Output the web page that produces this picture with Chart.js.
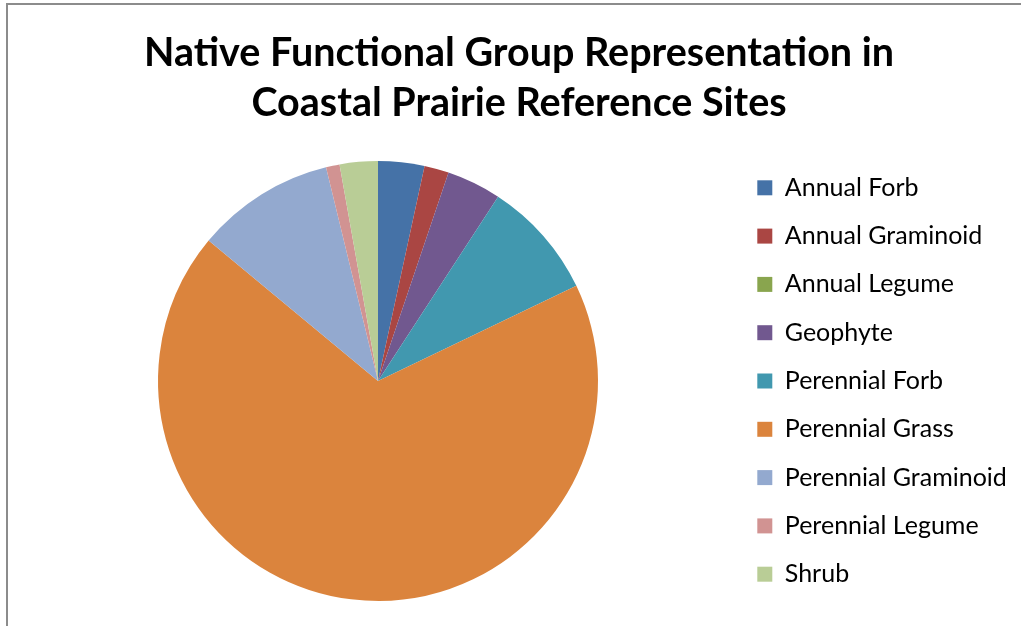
<!DOCTYPE html>
<html>
<head>
<meta charset="utf-8">
<script src="https://cdn.jsdelivr.net/npm/chart.js@4"></script>
<style>
    html, body { margin: 0; padding: 0; background: #fff; overflow: hidden; }
    #frame {
        position: absolute;
        left: 6px;
        top: 3px;
        border-left: 2px solid #8c8c8c;
        border-top: 2px solid #8c8c8c;
    }
    canvas { display: block; }
</style>
</head>
<body>
<div id="frame">
    <canvas id="pieChart" width="1030" height="621"></canvas>
</div>
<script>
const groups = ["Annual Forb", "Annual Graminoid", "Annual Legume", "Geophyte", "Perennial Forb",
    "Perennial Grass", "Perennial Graminoid", "Perennial Legume", "Shrub"];
const shares = [3.4, 1.8, 0, 4.0, 8.7, 68.2, 10.2, 1.0, 2.8];
const sliceColors = ["#4572A7", "#AA4643", "#89A54E", "#71588F", "#4198AF",
    "#DB843D", "#93A9CF", "#D19392", "#B9CD96"];

document.addEventListener("DOMContentLoaded", function() {
    const ctx = document.getElementById("pieChart").getContext("2d");

    new Chart(ctx, {
        type: 'pie',
        data: {
            labels: groups,
            datasets: [{
                data: shares,
                backgroundColor: sliceColors,
                borderWidth: 0
            }]
        },
        options: {
            responsive: false,
            animation: false,
            devicePixelRatio: 1,
            radius: 220,
            layout: {
                padding: { left: 14, right: 22, top: 0, bottom: 10 }
            },
            plugins: {
                title: {
                    display: true,
                    text: ["Native Functional Group Representation in", "Coastal Prairie Reference Sites"],
                    color: '#000',
                    font: { family: 'Lato', size: 39.5, weight: 'bold', lineHeight: 50 / 39.5 },
                    padding: { top: 23.3, bottom: 17.7 }
                },
                legend: {
                    position: 'right',
                    fullSize: false,
                    maxWidth: 282,
                    labels: {
                        color: '#000',
                        font: { family: 'Lato', size: 25 },
                        boxWidth: 15,
                        boxHeight: 15,
                        padding: 23.3
                    }
                },
                tooltip: { enabled: false }
            }
        }
    });
});
</script>
</body>
</html>
